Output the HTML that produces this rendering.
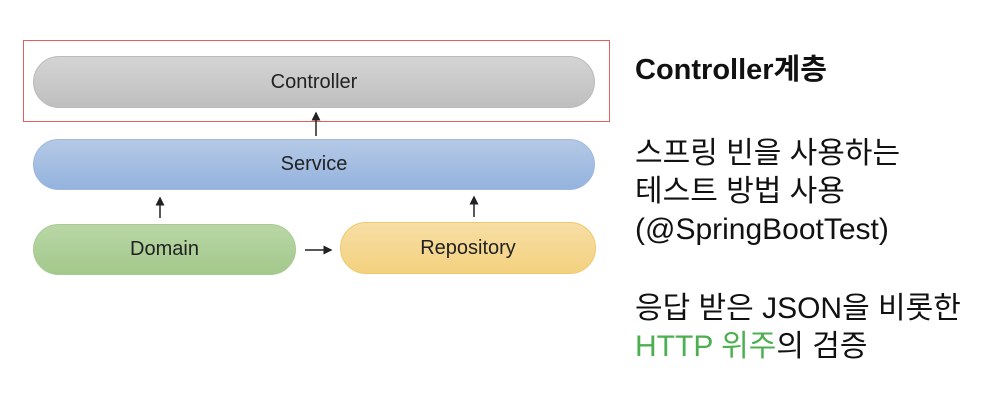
<!DOCTYPE html>
<html><head><meta charset="utf-8"><style>
body{margin:0;width:1006px;height:403px;background:#fff;position:relative;overflow:hidden;font-family:"Liberation Sans","Noto Sans CJK KR",sans-serif;}
.pill{position:absolute;border-radius:26px;display:flex;align-items:center;justify-content:center;font-size:20px;color:#222;box-sizing:border-box;}
.t{position:absolute;left:635px;font-size:30px;color:#111;white-space:nowrap;line-height:38px;}
</style></head><body>
<div style="position:absolute;left:23px;top:40px;width:587px;height:82px;border:1.5px solid #e06060;box-sizing:border-box"></div>
<div class="pill" style="left:33px;top:56px;width:562px;height:52px;background:linear-gradient(#d4d4d4,#bfbfbf);border:1px solid #bbb">Controller</div>
<div class="pill" style="left:33px;top:139px;width:562px;height:51px;background:linear-gradient(#b5c9e6,#94b3de);border:1px solid #9fb8dc">Service</div>
<div class="pill" style="left:33px;top:224px;width:263px;height:51px;background:linear-gradient(#b9d7a6,#a3c88c);border:1px solid #a8cb93">Domain</div>
<div class="pill" style="left:340px;top:222px;width:256px;height:52px;background:linear-gradient(#f7dea4,#f3d17f);border:1px solid #ecc96e">Repository</div>
<svg width="1006" height="403" style="position:absolute;left:0;top:0">
<defs><marker id="a" markerWidth="6" markerHeight="6" refX="5" refY="3" orient="auto"><path d="M0,0L6,3L0,6z" fill="#222"/></marker></defs>
<g stroke="#222" stroke-width="1.5" marker-end="url(#a)">
<line x1="316" y1="136" x2="316" y2="113"/>
<line x1="160" y1="218" x2="160" y2="198"/>
<line x1="474" y1="217" x2="474" y2="197"/>
<line x1="305" y1="250" x2="331" y2="250"/>
</g></svg>
<div class="t" style="top:51px;font-weight:bold;font-size:29px">Controller계층</div>
<div class="t" style="top:135px">스프링 빈을 사용하는</div>
<div class="t" style="top:173px">테스트 방법 사용</div>
<div class="t" style="top:211px">(@SpringBootTest)</div>
<div class="t" style="top:290px">응답 받은 JSON을 비롯한</div>
<div class="t" style="top:328px"><span style="color:#4caf50">HTTP 위주</span>의 검증</div>
</body></html>
